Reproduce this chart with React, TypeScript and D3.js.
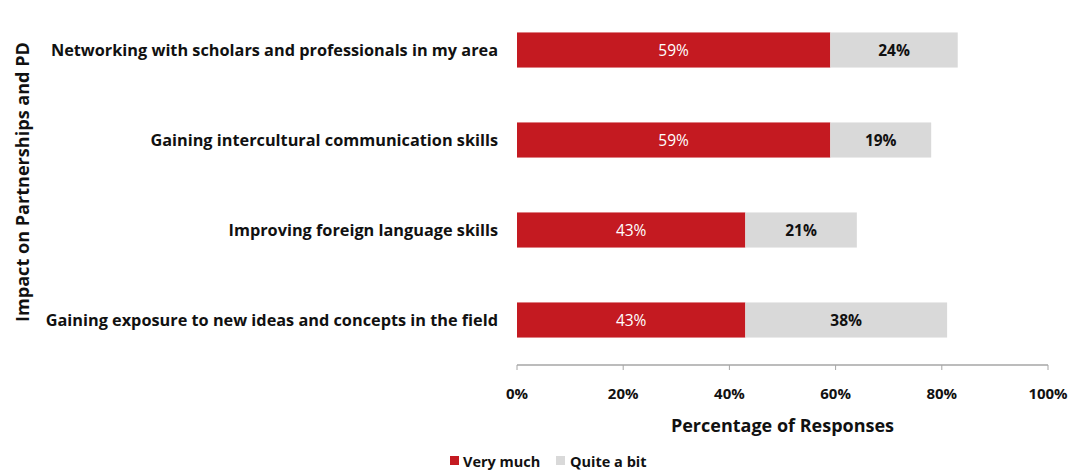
import React from "react";
import * as d3 from "d3";

const categories = [
  "Networking with scholars and professionals in my area",
  "Gaining intercultural communication skills",
  "Improving foreign language skills",
  "Gaining exposure to new ideas and concepts in the field",
];
const veryMuch = [59, 59, 43, 43];
const quiteABit = [24, 19, 21, 38];
const xTicks = [0, 20, 40, 60, 80, 100];
const seriesNames = ["Very much", "Quite a bit"];

const W = 1071;
const H = 471;
const FONT = "'Open Sans', Lato, sans-serif";
const RED = "#c41a21";
const GREY = "#d9d9d9";

export default function App() {
  const x = d3.scaleLinear().domain([0, 100]).range([517, 1048]);
  const y = d3
    .scaleBand<string>()
    .domain(categories)
    .range([5, 365])
    .paddingInner(0.61)
    .paddingOuter(0.305);
  const bw = y.bandwidth();
  const axisY = 365;

  return (
    <svg
      width={W}
      height={H}
      style={{ position: "absolute", left: 0, top: 0, background: "#fff" }}
      fontFamily={FONT}
    >
      {/* y axis title */}
      <text
        transform={`translate(22,182) rotate(-90)`}
        textAnchor="middle"
        dominantBaseline="central"
        fontSize={17}
        fontWeight={700}
        fill="#111"
        textLength={280}
        lengthAdjust="spacingAndGlyphs"
      >
        Impact on Partnerships and PD
      </text>

      {categories.map((c, i) => {
        const y0 = y(c)!;
        const cy = y0 + bw / 2;
        const v1 = veryMuch[i];
        const v2 = quiteABit[i];
        return (
          <g key={c}>
            <text
              x={498}
              y={cy}
              textAnchor="end"
              dominantBaseline="central"
              fontSize={16.3}
              fontWeight={700}
              fill="#111"
            >
              {c}
            </text>
            <rect x={x(0)} y={y0} width={x(v1) - x(0)} height={bw} fill={RED} />
            <rect x={x(v1)} y={y0} width={x(v1 + v2) - x(v1)} height={bw} fill={GREY} />
            <text
              x={(x(0) + x(v1)) / 2}
              y={cy}
              textAnchor="middle"
              dominantBaseline="central"
              fontSize={15.5}
              fill="#fff"
            >
              {v1}%
            </text>
            <text
              x={(x(v1) + x(v1 + v2)) / 2}
              y={cy}
              textAnchor="middle"
              dominantBaseline="central"
              fontSize={15.5}
              fontWeight={700}
              fill="#111"
            >
              {v2}%
            </text>
          </g>
        );
      })}

      {/* x axis */}
      <line x1={x(0)} x2={x(100)} y1={axisY} y2={axisY} stroke="#a6a6a6" strokeWidth={1.5} />
      {xTicks.map((t) => (
        <g key={t}>
          <line x1={x(t)} x2={x(t)} y1={axisY} y2={axisY + 5} stroke="#a6a6a6" strokeWidth={1} />
          <text
            x={x(t)}
            y={393}
            textAnchor="middle"
            dominantBaseline="central"
            fontSize={15}
            fontWeight={700}
            fill="#111"
          >
            {t}%
          </text>
        </g>
      ))}
      <text
        x={(x(0) + x(100)) / 2}
        y={425}
        textAnchor="middle"
        dominantBaseline="central"
        fontSize={18}
        fontWeight={700}
        fill="#111"
      >
        Percentage of Responses
      </text>

      {/* legend */}
      <rect x={450} y={456} width={9} height={9} fill={RED} />
      <text x={463} y={461} dominantBaseline="central" fontSize={14.5} fontWeight={700} fill="#111">
        {seriesNames[0]}
      </text>
      <rect x={556} y={456} width={9} height={9} fill={GREY} />
      <text x={570} y={461} dominantBaseline="central" fontSize={14.5} fontWeight={700} fill="#111">
        {seriesNames[1]}
      </text>
    </svg>
  );
}
